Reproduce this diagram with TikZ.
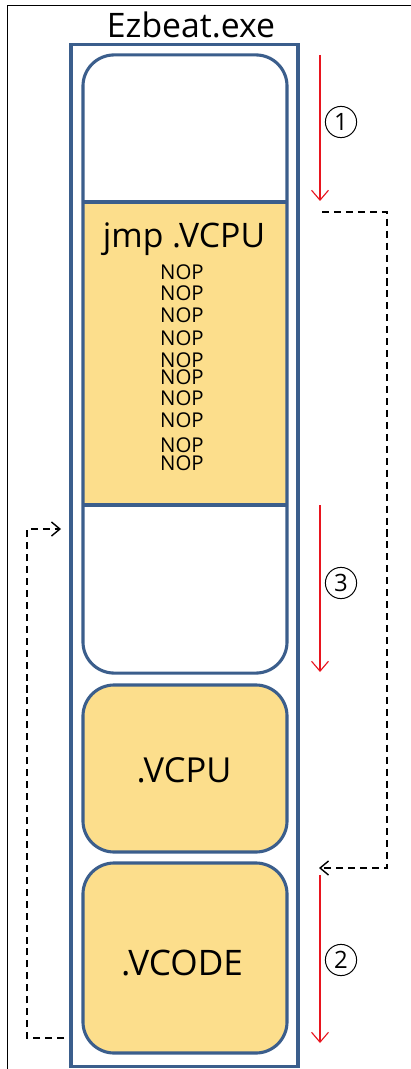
\documentclass[tikz,border=0pt]{standalone}
\usepackage{fontspec}
\setmainfont{Open Sans}
\usetikzlibrary{arrows.meta}

\definecolor{secblue}{RGB}{59,94,140}
\definecolor{secfill}{RGB}{252,222,140}
\definecolor{flowred}{RGB}{232,20,30}

\begin{document}
\begin{tikzpicture}[x=0.025cm,y=-0.025cm,
    every node/.style={inner sep=0pt},
    exebox/.style={draw=secblue, line width=2.2pt},
    secbox/.style={draw=secblue, line width=2.2pt, rounded corners=0.78cm},
    flow/.style={draw=flowred, line width=0.8pt, -{Straight Barb[length=7pt,width=12pt]}},
    jump/.style={draw=black, line width=1pt, dash pattern=on 5pt off 3.5pt,
                 -{Straight Barb[length=6pt,width=10pt]}},
    circnum/.style={circle, draw, line width=0.7pt, minimum size=0.78cm,
                    font=\fontsize{17}{17}\selectfont}]

  \useasboundingbox (0,0) rectangle (411,1069);
  \draw[line width=0.6pt] (7,1069) -- (7,5) -- (411,5);

  % file image
  \node[font=\fontsize{24}{26}\selectfont, anchor=base] (title) at (191,38) {Ezbeat.exe};
  \node[exebox, minimum width=5.675cm, minimum height=25.525cm] (exe) at (184.5,555.5) {};

  % stub section with the patched jump
  \fill[secfill] (83,202) rectangle (287,505);
  \node[secbox, minimum width=5.1cm, minimum height=15.45cm] (stub) at (185,364) {};
  \draw[draw=secblue, line width=2.2pt] (83,202) -- (287,202);
  \draw[draw=secblue, line width=2.2pt] (83,505) -- (287,505);
  \node[font=\fontsize{24}{26}\selectfont, anchor=base] (jmp) at (184,248) {jmp .VCPU};
  \foreach \y in {272,293,315,338,360,377,398,420,445,463}
    \node[font=\fontsize{14.5}{15}\selectfont] (nop-\y) at (182,\y) {NOP};

  % protector sections
  \node[secbox, fill=secfill, minimum width=5.1cm, minimum height=4.175cm] (vcpu) at (185,768.5) {};
  \node[font=\fontsize{24.5}{26}\selectfont, anchor=base] (vcpulbl) at (184,782) {.VCPU};
  \node[secbox, fill=secfill, minimum width=5.1cm, minimum height=4.75cm] (vcode) at (185,958) {};
  \node[font=\fontsize{25}{27}\selectfont, anchor=base] (vcodelbl) at (182,975) {.VCODE};

  % execution order
  \coordinate (r1s) at (320,55);   \coordinate (r1e) at (320,201);
  \coordinate (r3s) at (320,505);  \coordinate (r3e) at (320,672);
  \coordinate (r2s) at (320,875);  \coordinate (r2e) at (320,1043);
  \draw[flow] (r1s) -- (r1e);
  \draw[flow] (r3s) -- (r3e);
  \draw[flow] (r2s) -- (r2e);
  \node[circnum] (n1) at (341,122) {1};
  \node[circnum] (n3) at (341,583) {3};
  \node[circnum] (n2) at (341,960) {2};

  % jumps between sections
  \coordinate (j1s) at (322,212);  \coordinate (j1c) at (387,212);
  \coordinate (j1d) at (387,868);  \coordinate (j1e) at (319,868);
  \draw[jump] (j1s) -- (j1c) -- (j1d) -- (j1e);
  \coordinate (j2s) at (64,1038);  \coordinate (j2c) at (27,1038);
  \coordinate (j2d) at (27,529);   \coordinate (j2e) at (61,529);
  \draw[jump] (j2s) -- (j2c) -- (j2d) -- (j2e);
\end{tikzpicture}
\end{document}
